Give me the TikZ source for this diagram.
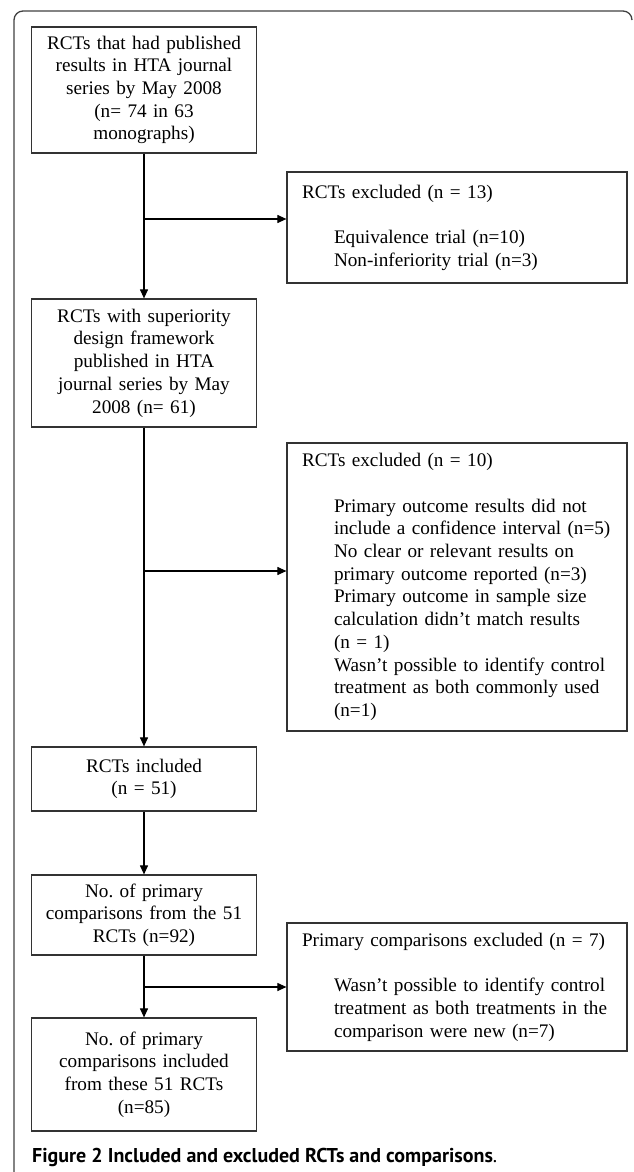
\documentclass[tikz,border=0pt]{standalone}
\usepackage{fontspec}
\setmainfont{Liberation Serif}
\newfontfamily\capfont{PT Sans}
\usetikzlibrary{arrows.meta}

\newcommand{\exitem}[1]{\hspace*{32pt}\mbox{#1}}

\begin{document}
\begin{tikzpicture}[x=1pt,y=1pt,
    box/.style={draw=black!80, line width=1.2pt, align=center, text width=215pt,
      inner xsep=5pt, inner ysep=0pt, minimum width=225pt,
      font=\fontsize{19.2}{22.7}\selectfont},
    exbox/.style={draw=black!80, line width=1.2pt, align=left, text width=310pt,
      inner xsep=15pt, inner ysep=0pt, minimum width=340pt,
      font=\fontsize{19.2}{22.7}\selectfont},
    arr/.style={line width=1.1pt, -{Triangle[length=9pt,width=8pt]}}]
  \useasboundingbox (0,0) rectangle (633,-1172);
  \draw[black!75, line width=1.3pt, rounded corners=9pt] (14,-1180) -- (14,-11) -- (632,-11) -- (632,-20);

  \node[box, minimum height=126pt] (pub) at (144,-90)
    {RCTs that had published\\results in HTA journal\\series by May 2008\\(n= 74 in 63\\monographs)};
  \node[box, minimum height=128pt] (sup) at (144,-363)
    {RCTs with superiority\\design framework\\published in HTA\\journal series by May\\2008 (n= 61)};
  \node[box, minimum height=64pt] (inc) at (144,-779)
    {RCTs included\\(n = 51)};
  \node[box, minimum height=80pt] (cmp) at (144,-915)
    {No.\ of primary\\comparisons from the 51\\RCTs (n=92)};
  \node[box, minimum height=113pt] (cmpinc) at (144,-1074.5)
    {No.\ of primary\\comparisons included\\from these 51 RCTs\\(n=85)};

  \node[exbox, minimum height=111pt] (exA) at (457,-227.5)
    {RCTs excluded (n = 13)\\[22.7pt]
     \exitem{Equivalence trial (n=10)}\\
     \exitem{Non-inferiority trial (n=3)}};
  \node[exbox, minimum height=288pt] (exB) at (457,-587)
    {RCTs excluded (n = 10)\\[22.7pt]
     \exitem{Primary outcome results did not}\\
     \exitem{include a confidence interval (n=5)}\\
     \exitem{No clear or relevant results on}\\
     \exitem{primary outcome reported (n=3)}\\
     \exitem{Primary outcome in sample size}\\
     \exitem{calculation didn’t match results}\\
     \exitem{(n = 1)}\\
     \exitem{Wasn’t possible to identify control}\\
     \exitem{treatment as both commonly used}\\
     \exitem{(n=1)}};
  \node[exbox, minimum height=128pt] (exC) at (457,-987)
    {Primary comparisons excluded (n = 7)\\[22.7pt]
     \exitem{Wasn’t possible to identify control}\\
     \exitem{treatment as both treatments in the}\\
     \exitem{comparison were new (n=7)}};

  \coordinate (brA) at (144,-219);
  \coordinate (brB) at (144,-571);
  \coordinate (brC) at (144,-987);

  \draw[arr] (pub) -- (sup);
  \draw[arr] (sup) -- (inc);
  \draw[arr] (inc) -- (cmp);
  \draw[arr] (cmp) -- (cmpinc);
  \draw[arr] (brA) -- (brA -| exA.west);
  \draw[arr] (brB) -- (brB -| exB.west);
  \draw[arr] (brC) -- (brC -| exC.west);

  \node[anchor=west, inner sep=0pt, font=\capfont\bfseries\fontsize{20}{24}\selectfont] (cap) at (32,-1157)
    {Figure 2 Included and excluded RCTs and comparisons{\mdseries.}};
\end{tikzpicture}
\end{document}
